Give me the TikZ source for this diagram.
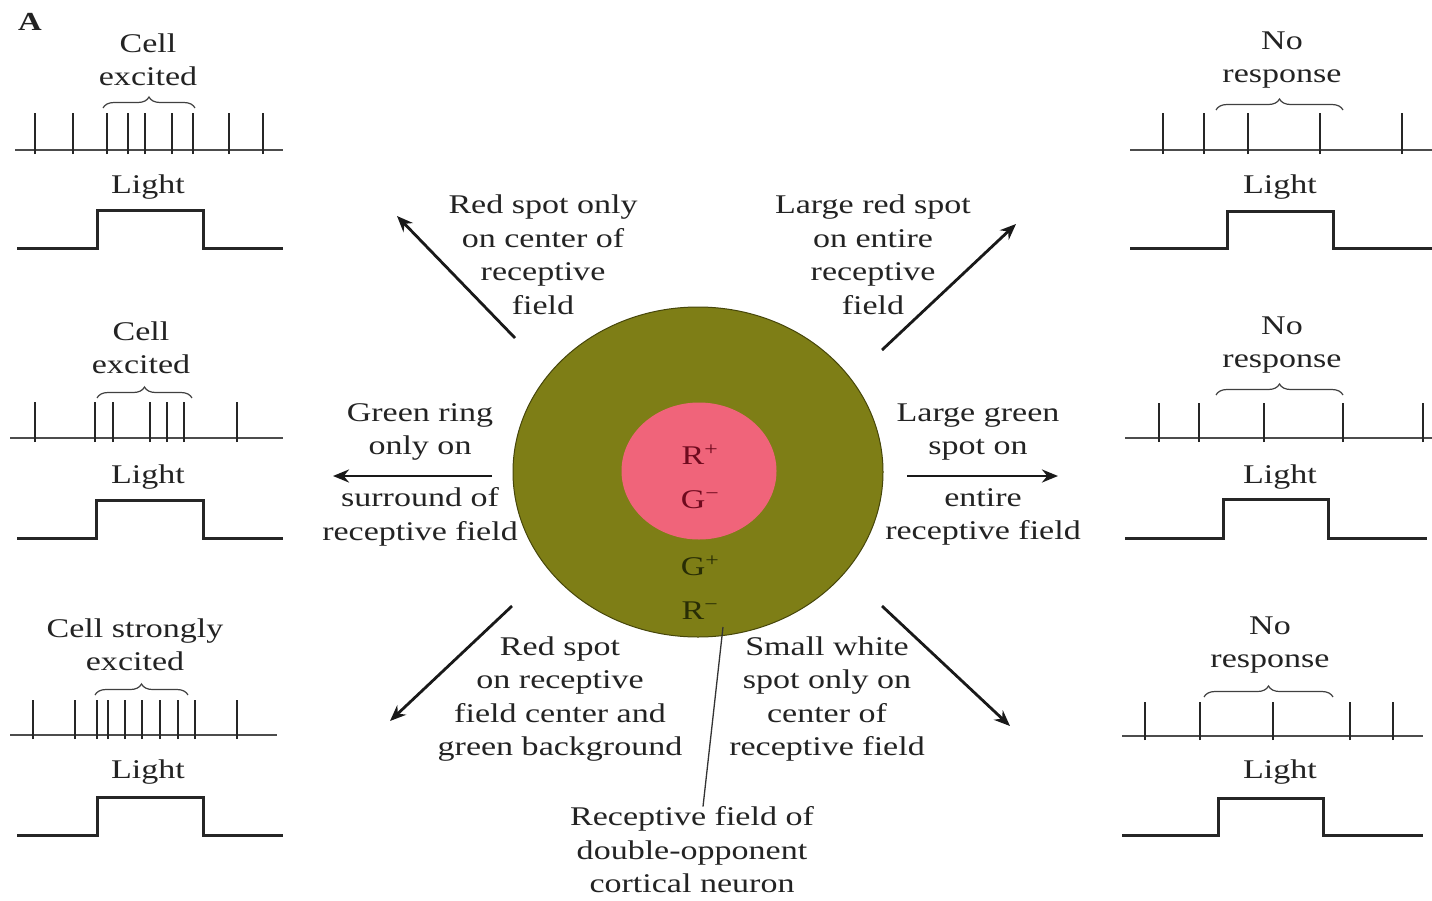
\documentclass[tikz,border=0pt]{standalone}
\usepackage{fontspec}
\setmainfont[FakeStretch=1.26]{Liberation Serif}
\usetikzlibrary{shapes.geometric,decorations.pathreplacing,arrows.meta}
\definecolor{olivefield}{RGB}{126,126,22}
\definecolor{olivedark}{RGB}{70,70,10}
\definecolor{pinkcenter}{RGB}{240,100,122}
\definecolor{txt}{RGB}{35,35,35}
\definecolor{redtxt}{RGB}{110,10,30}
\definecolor{greentxt}{RGB}{40,45,5}
\begin{document}
\begin{tikzpicture}[x=1pt,y=-1pt,
  lbl/.style={font=\fontsize{27}{33.5}\selectfont, text=txt, align=center, inner sep=0pt, anchor=center},
  base/.style={line width=1.6pt, draw=black!70},
  spike/.style={line width=1.9pt, draw=black!85},
  stepl/.style={line width=3pt, draw=black!85},
  brc/.style={decorate, decoration={brace, amplitude=11pt}, line width=1.2pt, draw=black!75},
  arr/.style={line width=2.8pt, draw=black!90, -{Stealth[length=16pt,width=13pt]}},
  ptr/.style={line width=1.3pt, draw=black!80}]
\useasboundingbox (0,0) rectangle (1432,900);
\fill[white] (0,0) rectangle (1432,900);

\node[lbl, font=\fontsize{26}{30}\selectfont\bfseries] (A) at (30,22) {A};

% ---------- receptive field ----------
\node[ellipse, fill=olivefield, draw=olivedark, line width=1pt, minimum width=370pt, minimum height=330pt, inner sep=0pt] (rf) at (698,472) {};
\node[ellipse, fill=pinkcenter, minimum width=155pt, minimum height=137pt, inner sep=0pt] (ctr) at (699,471) {};
\node[lbl, text=redtxt] (rp) at (700,455) {R\textsuperscript{+}};
\node[lbl, text=redtxt] (gm) at (700,500) {G\textsuperscript{−}};
\node[lbl, text=greentxt] (gp) at (700,566) {G\textsuperscript{+}};
\node[lbl, text=greentxt] (rm) at (700,611) {R\textsuperscript{−}};

% ---------- arrows ----------
\coordinate (nwS) at (515,338); \coordinate (nwE) at (397,216);
\coordinate (neS) at (882,350); \coordinate (neE) at (1016,224);
\coordinate (wS) at (492,476);  \coordinate (wE) at (333,476);
\coordinate (eS) at (907,476);  \coordinate (eE) at (1058,476);
\coordinate (swS) at (512,606); \coordinate (swE) at (390,721);
\coordinate (seS) at (882,606); \coordinate (seE) at (1010,726);
\draw[arr] (nwS) -- (nwE);
\draw[arr] (neS) -- (neE);
\draw[arr] (wS) -- (wE);
\draw[arr] (eS) -- (eE);
\draw[arr] (swS) -- (swE);
\draw[arr] (seS) -- (seE);

% ---------- labels ----------
\node[lbl] (tnw) at (543,255) {Red spot only\\on center of\\receptive\\field};
\node[lbl] (tne) at (873,255) {Large red spot\\on entire\\receptive\\field};
\node[lbl] (tw1) at (420,432) {Green ring\\only on};
\node[lbl] (tw2) at (420,517) {surround of\\receptive field};
\node[lbl] (te1) at (978,432) {Large green\\spot on};
\node[lbl] (te2) at (983,517) {entire\\receptive field};
\node[lbl] (tsw) at (560,699) {Red spot\\on receptive\\field center and\\green background};
\node[lbl] (tse) at (827,699) {Small white\\spot only on\\center of\\receptive field};
\node[lbl] (tb) at (692,850) {Receptive field of\\double-opponent\\cortical neuron};
\coordinate (ptop) at (723,627);
\draw[ptr] (ptop) -- (tb.north -| 703,0);

% ---------- left panel 1 ----------
\node[lbl] (l1t) at (148,60) {Cell\\excited};
\draw[base] (15,150) -- (283,150);
\foreach \x in {35,73,107,128,145,172,193,229,263} \draw[spike] (\x,154) -- (\x,113);
\draw[brc] (103,108) -- (195,108);
\node[lbl] (l1l) at (148,187) {Light};
\draw[stepl] (17,248) -- (97,248) -- (97,210) -- (203,210) -- (203,248) -- (283,248);

% ---------- left panel 2 ----------
\node[lbl] (l2t) at (141,348) {Cell\\excited};
\draw[base] (10,438) -- (283,438);
\foreach \x in {35,95,113,150,167,184,237} \draw[spike] (\x,442) -- (\x,402);
\draw[brc] (97,398) -- (192,398);
\node[lbl] (l2l) at (148,477) {Light};
\draw[stepl] (17,538) -- (96,538) -- (96,500) -- (203,500) -- (203,538) -- (283,538);

% ---------- left panel 3 ----------
\node[lbl] (l3t) at (135,645) {Cell strongly\\excited};
\draw[base] (10,735) -- (277,735);
\foreach \x in {33,75,97,108,125,142,160,178,195,237} \draw[spike] (\x,739) -- (\x,700);
\draw[brc] (95,695) -- (188,695);
\node[lbl] (l3l) at (148,772) {Light};
\draw[stepl] (17,835) -- (97,835) -- (97,797) -- (203,797) -- (203,835) -- (283,835);

% ---------- right panel 1 ----------
\node[lbl] (r1t) at (1282,60) {No\\response};
\draw[base] (1130,150) -- (1432,150);
\foreach \x in {1163,1204,1248,1320,1402} \draw[spike] (\x,154) -- (\x,113);
\draw[brc] (1216,110) -- (1343,110);
\node[lbl] (r1l) at (1280,187) {Light};
\draw[stepl] (1130,248) -- (1227,248) -- (1227,211) -- (1333,211) -- (1333,248) -- (1432,248);

% ---------- right panel 2 ----------
\node[lbl] (r2t) at (1282,345) {No\\response};
\draw[base] (1125,438) -- (1432,438);
\foreach \x in {1159,1199,1264,1343,1423} \draw[spike] (\x,442) -- (\x,403);
\draw[brc] (1216,395) -- (1343,395);
\node[lbl] (r2l) at (1280,477) {Light};
\draw[stepl] (1125,538) -- (1223,538) -- (1223,499) -- (1328,499) -- (1328,538) -- (1427,538);

% ---------- right panel 3 ----------
\node[lbl] (r3t) at (1270,645) {No\\response};
\draw[base] (1122,736) -- (1423,736);
\foreach \x in {1145,1200,1273,1350,1393} \draw[spike] (\x,740) -- (\x,702);
\draw[brc] (1204,697) -- (1333,697);
\node[lbl] (r3l) at (1280,772) {Light};
\draw[stepl] (1122,835) -- (1218,835) -- (1218,798) -- (1323,798) -- (1323,835) -- (1423,835);
\end{tikzpicture}
\end{document}
